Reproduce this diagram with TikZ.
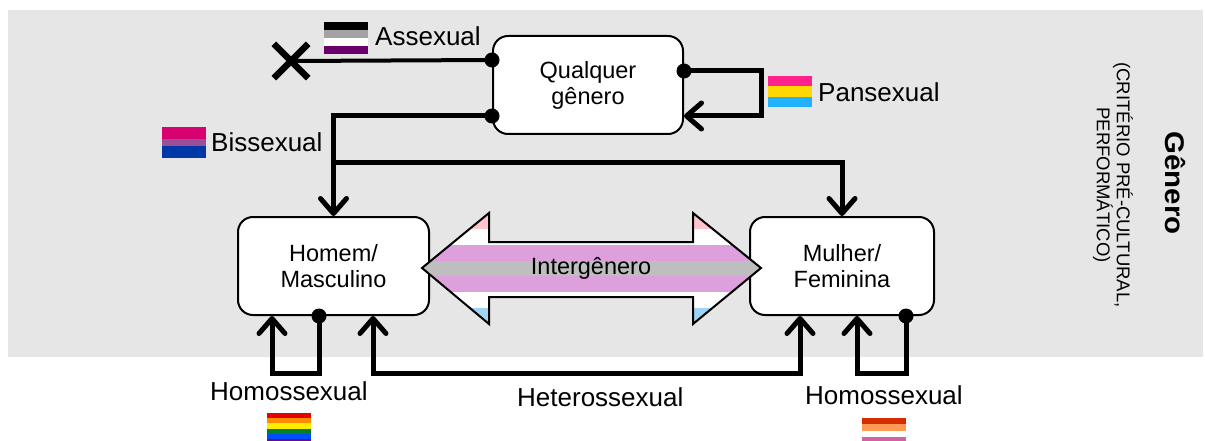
\documentclass[tikz,border=0pt]{standalone}
\usepackage{fontspec}
\setmainfont{Liberation Sans}
\usetikzlibrary{arrows.meta,calc}
\definecolor{bggray}{HTML}{E6E6E6}
\definecolor{igpink}{HTML}{FFC4CE}
\definecolor{igorchid}{HTML}{DDA0DD}
\definecolor{iggray}{HTML}{BEBEBE}
\definecolor{igblue}{HTML}{A0D4F5}
\definecolor{acegray}{HTML}{A3A3A3}
\definecolor{acepurple}{HTML}{6A006A}
\definecolor{panpink}{HTML}{FF218C}
\definecolor{panyellow}{HTML}{FFD800}
\definecolor{panblue}{HTML}{21B1FF}
\definecolor{bimag}{HTML}{D60270}
\definecolor{bipur}{HTML}{9B4F96}
\definecolor{biblue}{HTML}{0038A8}
\definecolor{rbred}{HTML}{E40303}
\definecolor{rborange}{HTML}{FF8C00}
\definecolor{rbyellow}{HTML}{FFED00}
\definecolor{rbgreen}{HTML}{008026}
\definecolor{rbblue}{HTML}{004DFF}
\definecolor{rbpurple}{HTML}{750787}
\definecolor{lsa}{HTML}{D52D00}
\definecolor{lsb}{HTML}{FF9A56}
\definecolor{lsd}{HTML}{D362A4}
\definecolor{lse}{HTML}{A30262}
\begin{document}
\begin{tikzpicture}[x=1pt,y=-1pt,
  box/.style={draw, line width=2pt, rounded corners=15pt, fill=white, minimum width=190pt, minimum height=98pt, align=center, inner sep=0pt, font=\fontsize{23.5}{26}\selectfont},
  conn/.style={line width=5pt},
  arr/.style={-{Straight Barb[length=15pt,width=26pt,round]}},
  dot/.style={circle, fill=black, inner sep=0pt, minimum size=15pt},
  lbl/.style={anchor=base west, inner sep=0pt, font=\fontsize{26}{30}\selectfont}]
\useasboundingbox (0,0) rectangle (1205,441);
\fill[bggray] (8,10) rectangle (1203,357);

% boxes
\node[box] (q) at (588,85) {Qualquer\\gênero};
\node[box, minimum width=191pt] (h) at (333.5,266) {Homem/\\Masculino};
\node[box, minimum width=184pt] (m) at (842,266) {Mulher/\\Feminina};

% anchors for connectors
\coordinate (qA) at ($(q.west)+(0,-25)$);
\coordinate (qR) at ($(q.east)+(0,-14)$);
\coordinate (qB) at ($(q.west)+(0,31)$);
\coordinate (qRin) at ($(q.east)+(0,31)$);
\node[inner sep=0pt, minimum size=34pt] (xm) at (291,61) {};

% Assexual
\draw[line width=4pt] (qA) -- (xm.center);
\draw[line width=6.5pt] (xm.north west) -- (xm.south east);
\draw[line width=6.5pt] (xm.north east) -- (xm.south west);

% Pansexual loop
\draw[conn,arr] (qR) -- ++(77,0) |- (qRin);

% Bissexual
\draw[conn,arr] (qB) -| (h.north);
\draw[conn,arr] (h.north |- 0,163) -| (m.north);

% bottom loops
\draw[conn,arr] ($(h.south)+(-14.5,0)$) -- ++(0,57) -| ($(h.south)+(-61.5,0)$);
\draw[conn,{Straight Barb[length=15pt,width=26pt,round]}-{Straight Barb[length=15pt,width=26pt,round]}]
  ($(h.south)+(39.5,0)$) |- ($(m.south)+(-42,57)$) -- ($(m.south)+(-42,0)$);
\draw[conn,arr] ($(m.south)+(64,0)$) -- ++(0,57) -| ($(m.south)+(15,0)$);

% dots
\node[dot] at (qA) {};
\node[dot] at (qR) {};
\node[dot] at (qB) {};
\node[dot] at ($(h.south)+(-14.5,0)$) {};
\node[dot] at ($(m.south)+(64,0)$) {};

% Intergender double arrow
\begin{scope}
\clip (422,268) -- (489,213) -- (489,242) -- (693,242) -- (693,213) -- (761,268) -- (693,324) -- (693,297) -- (489,297) -- (489,324) -- cycle;
\fill[igpink] (420,213) rectangle (765,228.9);
\fill[white] (420,228.9) rectangle (765,244.7);
\fill[igorchid] (420,244.7) rectangle (765,260.6);
\fill[iggray] (420,260.6) rectangle (765,276.4);
\fill[igorchid] (420,276.4) rectangle (765,292.3);
\fill[white] (420,292.3) rectangle (765,308.1);
\fill[igblue] (420,308.1) rectangle (765,324);
\end{scope}
\draw[line width=2pt, line join=miter] (422,268) -- (489,213) -- (489,242) -- (693,242) -- (693,213) -- (761,268) -- (693,324) -- (693,297) -- (489,297) -- (489,324) -- cycle;
\node[font=\fontsize{23.5}{26}\selectfont] (ig) at (591,268) {Intergênero};

% flags
\fill[black] (324,22) rectangle (368,30);
\fill[acegray] (324,30) rectangle (368,38);
\fill[white] (324,38) rectangle (368,46);
\fill[acepurple] (324,46) rectangle (368,54);
\fill[panpink] (768,76) rectangle (812,86.4);
\fill[panyellow] (768,86.4) rectangle (812,96.7);
\fill[panblue] (768,96.7) rectangle (812,107);
\fill[bimag] (162,127) rectangle (206,139.4);
\fill[bipur] (162,139.4) rectangle (206,145.6);
\fill[biblue] (162,145.6) rectangle (206,158);
\fill[rbred] (267,413) rectangle (311,418.2);
\fill[rborange] (267,418.2) rectangle (311,423.3);
\fill[rbyellow] (267,423.3) rectangle (311,428.5);
\fill[rbgreen] (267,428.5) rectangle (311,433.7);
\fill[rbblue] (267,433.7) rectangle (311,438.8);
\fill[rbpurple] (267,438.8) rectangle (311,444);
\fill[lsa] (862,418) rectangle (906,424.3);
\fill[lsb] (862,424.3) rectangle (906,430.6);
\fill[white] (862,430.6) rectangle (906,436.9);
\fill[lsd] (862,436.9) rectangle (906,443.2);
\fill[lse] (862,443.2) rectangle (906,449.5);

% labels
\node[lbl] (la) at (375,46) {Assexual};
\node[lbl] (lp) at (818,102) {Pansexual};
\node[lbl] (lb) at (211,152) {Bissexual};
\node[lbl] (lh1) at (210,400) {Homossexual};
\node[lbl] (lhe) at (517,406) {Heterossexual};
\node[lbl] (lh2) at (805,404) {Homossexual};

% right side
\node[rotate=-90, font=\bfseries\fontsize{27}{30}\selectfont] (gen) at (1175,183) {\scalebox{1.09}[1]{Gênero}};
\node[rotate=-90, align=center, font=\fontsize{18.5}{20}\selectfont] (crit) at (1113,185) {(CRITÉRIO PRÉ-CULTURAL,\\PERFORMÁTICO)};
\end{tikzpicture}
\end{document}
